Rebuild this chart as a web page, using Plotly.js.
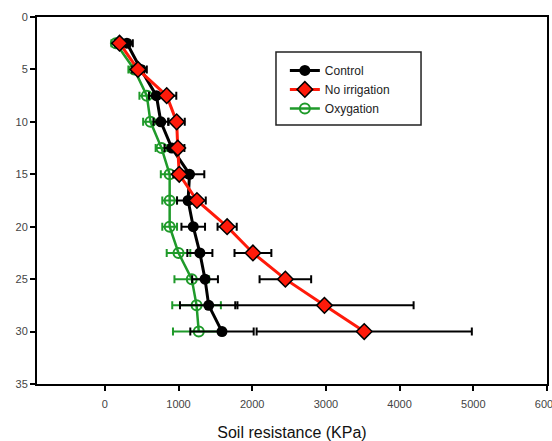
<!DOCTYPE html>
<html>
<head>
<meta charset="utf-8">
<script src="https://cdn.plot.ly/plotly-3.0.1.min.js"></script>
<style>html,body{margin:0;padding:0;background:#fff;}#chart{width:552px;height:441px;}</style>
</head>
<body>
<div id="chart"></div>
<script>
const depth = [2.5, 5, 7.5, 10, 12.5, 15, 17.5, 20, 22.5, 25, 27.5, 30];
const controlVals = [300, 490, 700, 760, 910, 1150, 1130, 1200, 1290, 1360, 1410, 1590];
const controlErr = [80, 80, 100, 100, 100, 200, 150, 160, 170, 175, 390, 430];
const noIrrVals = [200, 450, 840, 975, 990, 1010, 1250, 1660, 2010, 2450, 2980, 3520];
const noIrrErr = [60, 80, 130, 110, 90, 80, 120, 130, 250, 350, 1210, 1460];
const oxyVals = [150, 400, 570, 620, 770, 880, 880, 880, 1000, 1180, 1245, 1275];
const oxyErr = [60, 80, 100, 100, 80, 120, 100, 100, 160, 235, 330, 350];
const seriesNames = ["Control", "No irrigation", "Oxygation"];

const FONT = "Liberation Sans, Arial, sans-serif";

const traces = [
  {
    x: oxyVals, y: depth, name: seriesNames[2], type: "scatter", mode: "lines+markers",
    line: {color: "#1f9a2a", width: 2.5},
    marker: {symbol: "circle-open", size: 10, color: "#1f9a2a", line: {width: 2, color: "#1f9a2a"}},
    error_x: {type: "data", array: oxyErr, visible: true, color: "#1f9a2a", thickness: 2, width: 4},
    legendrank: 3
  },
  {
    x: controlVals, y: depth, name: seriesNames[0], type: "scatter", mode: "lines+markers",
    line: {color: "#000000", width: 3},
    marker: {symbol: "circle", size: 11, color: "#000000"},
    error_x: {type: "data", array: controlErr, visible: true, color: "#000000", thickness: 2, width: 4},
    legendrank: 1
  },
  {
    x: noIrrVals, y: depth, name: seriesNames[1], type: "scatter", mode: "lines+markers",
    line: {color: "#ff1a0a", width: 3},
    marker: {symbol: "diamond", size: 12, color: "#ff1a0a", line: {width: 1.5, color: "#000000"}},
    error_x: {type: "data", array: noIrrErr, visible: true, color: "#000000", thickness: 2, width: 4},
    legendrank: 2
  }
];

const layout = {
  width: 552, height: 441,
  margin: {l: 37, r: 5, t: 17, b: 57},
  paper_bgcolor: "#ffffff", plot_bgcolor: "#ffffff",
  showlegend: true,
  legend: {
    x: 0.486, y: 0.894, xanchor: "left", yanchor: "top",
    bgcolor: "rgba(0,0,0,0)", borderwidth: 0,
    font: {family: FONT, size: 12, color: "#222"},
    traceorder: "normal",
    itemwidth: 30
  },
  shapes: [{
    type: "rect", xref: "paper", yref: "paper",
    x0: 0.4686, x1: 0.753, y0: 0.7057, y1: 0.9046,
    line: {color: "#222", width: 1.5}, fillcolor: "rgba(0,0,0,0)", layer: "above"
  }],
  xaxis: {
    range: [-920, 6000], dtick: 1000, tick0: 0,
    showgrid: false, zeroline: false,
    showline: true, linecolor: "#000", linewidth: 2, mirror: true,
    ticks: "outside", ticklen: 5, tickwidth: 2, tickcolor: "#000",
    ticklabeloverflow: "allow", ticklabelstandoff: 4,
    tickfont: {family: FONT, size: 11, color: "#444"},
    title: {text: "Soil resistance (KPa)", font: {family: FONT, size: 16, color: "#111"}, standoff: 18}
  },
  yaxis: {
    range: [35, 0], dtick: 5, tick0: 0,
    showgrid: false, zeroline: false,
    showline: true, linecolor: "#000", linewidth: 2, mirror: true,
    ticks: "outside", ticklen: 5, tickwidth: 2, tickcolor: "#000",
    tickfont: {family: FONT, size: 11, color: "#444"}
  }
};

Plotly.newPlot("chart", traces, layout, {displayModeBar: false, staticPlot: true});
</script>
</body>
</html>
